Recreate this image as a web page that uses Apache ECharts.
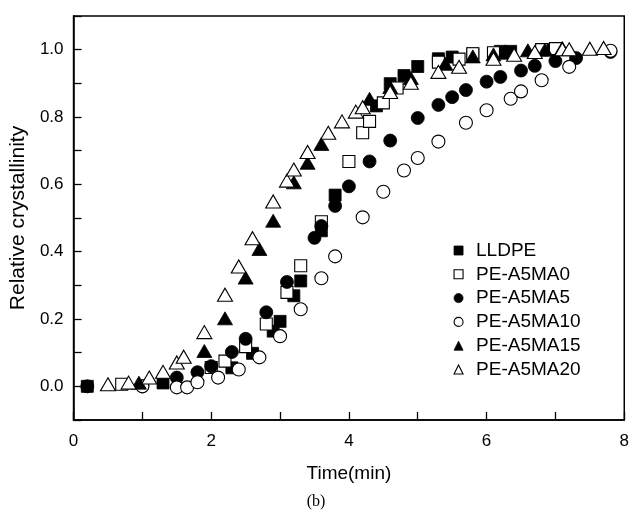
<!DOCTYPE html>
<html>
<head>
<meta charset="utf-8">
<script src="https://cdn.jsdelivr.net/npm/echarts@6/dist/echarts.min.js"></script>
<style>
html,body{margin:0;padding:0;background:#fff;}
#chart{width:632px;height:514px;}
</style>
</head>
<body>
<div id="chart"></div>
<script>
const seriesNames = ['LLDPE', 'PE-A5MA0', 'PE-A5MA5', 'PE-A5MA10', 'PE-A5MA15', 'PE-A5MA20'];

const lldpeX = [0.2, 1.3, 2.3, 2.6, 2.9, 3.0, 3.2, 3.3, 3.6, 3.8, 4.4, 4.6, 4.8, 5.0, 5.3, 5.5, 5.8, 6.2, 6.35, 6.85, 7.0];
const lldpeY = [0.0, 0.01, 0.055, 0.098, 0.164, 0.193, 0.269, 0.313, 0.462, 0.568, 0.833, 0.899, 0.923, 0.95, 0.973, 0.978, 0.988, 0.995, 0.995, 1.0, 1.003];

const ma0X = [0.7, 2.0, 2.2, 2.5, 2.8, 3.1, 3.3, 3.6, 4.0, 4.2, 4.3, 4.5, 4.7, 5.3, 5.6, 5.8, 6.1, 6.8, 7.0];
const ma0Y = [0.006, 0.056, 0.075, 0.118, 0.185, 0.279, 0.358, 0.489, 0.668, 0.753, 0.787, 0.842, 0.886, 0.963, 0.972, 0.988, 0.991, 1.0, 1.003];

const ma5X = [0.2, 1.0, 1.5, 1.8, 2.0, 2.3, 2.5, 2.8, 3.1, 3.5, 3.6, 3.8, 4.0, 4.3, 4.6, 5.0, 5.3, 5.5, 5.7, 6.0, 6.2, 6.5, 6.7, 7.0, 7.3, 7.8];
const ma5Y = [0.0, 0.0, 0.026, 0.042, 0.06, 0.102, 0.141, 0.22, 0.31, 0.441, 0.476, 0.536, 0.594, 0.668, 0.73, 0.797, 0.836, 0.859, 0.88, 0.905, 0.919, 0.938, 0.952, 0.966, 0.975, 0.993];

const ma10X = [1.0, 1.5, 1.65, 1.8, 2.1, 2.4, 2.7, 3.0, 3.3, 3.6, 3.8, 4.2, 4.5, 4.8, 5.0, 5.3, 5.7, 6.0, 6.35, 6.5, 6.8, 7.2, 7.8];
const ma10Y = [0.0, -0.003, -0.003, 0.012, 0.026, 0.05, 0.086, 0.149, 0.229, 0.321, 0.386, 0.502, 0.578, 0.641, 0.678, 0.727, 0.783, 0.82, 0.854, 0.876, 0.909, 0.949, 0.997];

const ma15X = [0.95, 1.9, 2.2, 2.5, 2.7, 2.9, 3.2, 3.4, 3.6, 4.3, 4.6, 4.9, 5.4, 5.8, 6.1, 6.3, 6.6, 6.85, 7.1];
const ma15Y = [0.011, 0.105, 0.202, 0.323, 0.408, 0.492, 0.606, 0.664, 0.72, 0.854, 0.889, 0.916, 0.958, 0.98, 0.986, 0.991, 0.998, 1.0, 1.005];

const ma20X = [0.5, 0.8, 1.1, 1.3, 1.5, 1.6, 1.9, 2.2, 2.4, 2.6, 2.9, 3.1, 3.2, 3.4, 3.7, 3.9, 4.1, 4.2, 4.6, 4.9, 5.3, 5.6, 6.1, 6.4, 6.7, 7.1, 7.2, 7.5, 7.7];
const ma20Y = [0.006, 0.011, 0.026, 0.043, 0.071, 0.088, 0.161, 0.272, 0.356, 0.44, 0.549, 0.611, 0.644, 0.696, 0.753, 0.787, 0.816, 0.829, 0.874, 0.902, 0.934, 0.949, 0.973, 0.985, 0.993, 1.001, 1.001, 1.003, 1.005];

const xLabels = ['0', '2', '4', '6', '8'];
const yLabels = ['0.0', '0.2', '0.4', '0.6', '0.8', '1.0'];

const xs = [lldpeX, ma0X, ma5X, ma10X, ma15X, ma20X];
const ys = [lldpeY, ma0Y, ma5Y, ma10Y, ma15Y, ma20Y];
const symbols = ['rect', 'rect', 'circle', 'circle', 'triangle', 'triangle'];
const filled = [true, false, true, false, true, false];
const sizes = [[12, 12], [12, 12], [13, 13], [13, 13], [15, 13], [15, 13]];

const FONT = 'Liberation Sans, Arial, sans-serif';

const chart = echarts.init(document.getElementById('chart'), null, {renderer: 'canvas'});

const styleFor = i => filled[i]
  ? {color: '#000', borderColor: '#000', borderWidth: 0.8, opacity: 1}
  : {color: '#fff', borderColor: '#000', borderWidth: 1.1, opacity: 1};

const series = seriesNames.map((name, i) => ({
  name: name,
  type: 'scatter',
  symbol: symbols[i],
  symbolSize: sizes[i],
  data: xs[i].map((x, j) => [x, ys[i][j]]),
  itemStyle: styleFor(i),
  emphasis: {disabled: true},
  clip: false
}));

chart.setOption({
  animation: false,
  backgroundColor: '#fff',
  grid: {left: 72.5, right: 7, top: 16, bottom: 94, show: true, borderColor: '#000', borderWidth: 1.5, backgroundColor: 'transparent'},
  xAxis: {
    type: 'value', min: 0, max: 8, interval: 1,
    name: 'Time(min)', nameLocation: 'middle', nameGap: 44,
    nameTextStyle: {fontFamily: FONT, fontSize: 19, color: '#000'},
    axisLine: {show: true, onZero: false, lineStyle: {color: '#000', width: 1.5}},
    axisTick: {show: true, inside: true, length: 8, lineStyle: {color: '#000', width: 1.3}},
    axisLabel: {
      margin: 13, fontFamily: FONT, fontSize: 17, color: '#000',
      formatter: v => { const k = Math.round(v); return (k % 2 === 0) ? xLabels[k / 2] : ''; }
    },
    splitLine: {show: false}
  },
  yAxis: {
    type: 'value', min: -0.1, max: 1.1, interval: 0.1,
    name: 'Relative crystallinity', nameLocation: 'middle', nameGap: 43, nameRotate: 90,
    nameTextStyle: {fontFamily: FONT, fontSize: 21, color: '#000'},
    axisLine: {show: true, onZero: false, lineStyle: {color: '#000', width: 1.5}},
    axisTick: {show: true, inside: true, length: 8, lineStyle: {color: '#000', width: 1.3}},
    axisLabel: {
      margin: 10, fontFamily: FONT, fontSize: 17, color: '#000',
      formatter: v => { const k = Math.round(v * 10); return (k >= 0 && k <= 10 && k % 2 === 0) ? yLabels[k / 2] : ''; }
    },
    splitLine: {show: false}
  },
  legend: {
    orient: 'vertical', left: 448.5, top: 236,
    itemWidth: 9, itemHeight: 9, itemGap: 4.8,
    data: seriesNames.map((n, i) => ({name: n, icon: symbols[i], itemStyle: styleFor(i)})),
    textStyle: {fontFamily: FONT, fontSize: 19, color: '#000', padding: [0, 0, 0, 8]},
    selectedMode: false
  },
  graphic: [{
    type: 'text', left: 'center', top: 494,
    style: {text: '(b)', font: '16px "Liberation Serif", "Times New Roman", serif', fill: '#000'}
  }],
  series: series
});
</script>
</body>
</html>
